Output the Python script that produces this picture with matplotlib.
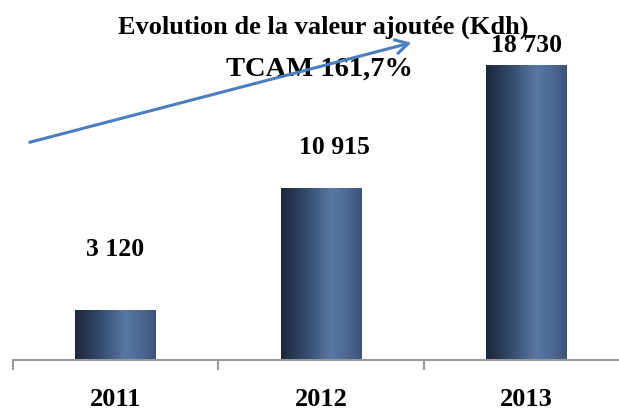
import matplotlib
matplotlib.use("Agg")
import matplotlib.pyplot as plt
import numpy as np
from matplotlib.colors import LinearSegmentedColormap

years = ["2011", "2012", "2013"]
values = [3120, 10915, 18730]
value_labels = ["3 120", "10 915", "18 730"]
title = "Evolution de la valeur ajoutée (Kdh)"
tcam_text = "TCAM 161,7%"

serif = ["Liberation Serif", "DejaVu Serif"]

fig = plt.figure(figsize=(6.19, 4.12), dpi=100)
ax = fig.add_axes([12.5/619, 52/412, (619-12.5)/619, 315/412])
ax.set_xlim(-0.5, 2.45)
ax.set_ylim(0, 20000)

cmap = LinearSegmentedColormap.from_list("cyl", [
    (0.0, "#1c273b"), (0.3, "#33496b"), (0.62, "#5a78a2"), (0.85, "#4a6690"), (1.0, "#3a5277")])
grad = np.linspace(0, 1, 256).reshape(1, -1)
bw = 0.39
xs = np.arange(len(years))
bars = ax.bar(xs, values, width=bw, color="none", edgecolor="none")
for b in bars:
    x0, w, h = b.get_x(), b.get_width(), b.get_height()
    ax.imshow(grad, cmap=cmap, aspect="auto", extent=[x0, x0 + w, 0, h],
              interpolation="bicubic", zorder=2)
ax.set_xlim(-0.5, 2.45)
ax.set_ylim(0, 20000)

offsets = [61, 41, 20]
xshift = [0, 14, 0]
for x, v, lab, off, dx in zip(xs, values, value_labels, offsets, xshift):
    ax.annotate(lab, (x, v), xytext=(dx * 0.72, off * 0.72), textcoords="offset points",
                ha="center", va="center", fontsize=18.5, fontweight="bold",
                family=serif, annotation_clip=False)

for s in ["top", "right", "left"]:
    ax.spines[s].set_visible(False)
ax.spines["bottom"].set_color("#999999")
ax.spines["bottom"].set_linewidth(1.5)
ax.set_yticks([])
ax.set_xticks(xs)
ax.set_xticklabels(years, fontsize=19, fontweight="bold", family=serif)
ax.tick_params(axis="x", which="major", length=0, pad=20.5)
ax.set_xticks([-0.5, 0.5, 1.5], minor=True)
ax.tick_params(axis="x", which="minor", length=7, width=1.5, color="#999999", direction="out")

fig.text(323/619, 1 - 27/412, title, ha="center", va="center", fontsize=19,
         fontweight="bold", family=serif)
fig.text(319/619, 1 - 69/412, tcam_text, ha="center", va="center", fontsize=20.5,
         fontweight="bold", family=serif)

fig.add_artist(matplotlib.patches.FancyArrowPatch(
    (27/619, 1 - 143/412), (414/619, 1 - 42/412), transform=fig.transFigure,
    arrowstyle="->,head_length=9,head_width=5", color="#4a7ebf", linewidth=2.2,
    mutation_scale=1, zorder=5))

fig.savefig("out.png", dpi=100)
